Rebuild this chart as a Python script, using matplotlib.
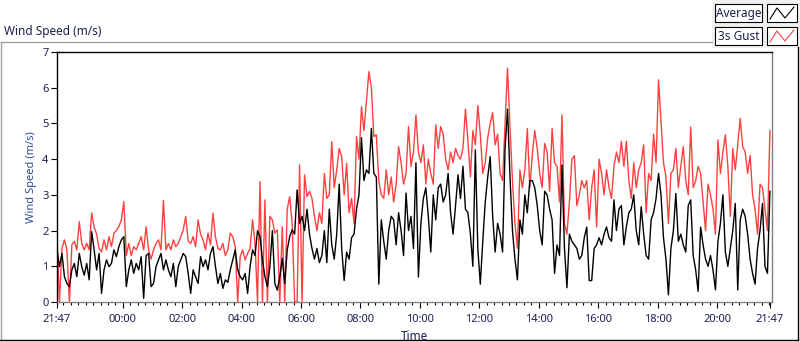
import numpy as np
import matplotlib.pyplot as plt
from matplotlib.lines import Line2D
from matplotlib.patches import Rectangle

plt.rcParams['font.family'] = ['Noto Sans', 'DejaVu Sans']

W, H = 800, 342

# one reading every 5 minutes, starting at 21:47
step_min = 5

gust = [
    1.8, 0.0, 1.5, 1.74, 1.46, 0.0, 1.6, 1.7, 1.46, 2.25, 1.64, 1.46,
    1.64, 1.46, 2.49, 2.1, 1.9, 1.5, 1.4, 1.74, 1.46, 1.83, 1.55, 1.93,
    2.0, 2.11, 2.3, 2.81, 1.3, 1.64, 1.3, 1.55, 1.46, 1.64, 1.83, 1.46,
    2.11, 1.46, 1.2, 1.46, 1.64, 1.74, 1.46, 2.84, 1.46, 1.64, 1.46, 1.74,
    1.55, 1.64, 1.83, 2.02, 2.4, 1.7, 1.64, 1.83, 1.55, 2.3, 1.9, 1.74,
    1.46, 1.93, 1.6, 2.49, 1.83, 1.5, 1.46, 1.64, 1.3, 1.46, 1.93, 1.83,
    1.55, 0.0, 1.27, 1.46, 1.18, 1.36, 1.5, 2.3, 1.64, 0.0, 3.37, 0.0,
    2.86, 0.0, 2.4, 2.3, 1.93, 2.02, 0.0, 2.11, 0.0, 2.6, 2.95, 2.2,
    0.0, 0.0, 3.84, 0.0, 3.56, 2.95, 3.1, 2.9, 2.4, 2.0, 2.5, 2.2,
    3.6, 2.9, 3.0, 4.49, 3.2, 3.7, 4.3, 4.07, 3.0, 3.88, 2.5, 2.9,
    2.2, 4.63, 4.0, 5.47, 4.8, 5.61, 6.45, 6.0, 4.63, 4.68, 3.4, 3.0,
    2.9, 3.7, 3.0, 3.5, 2.8, 3.3, 4.35, 3.9, 3.3, 3.6, 4.91, 3.8,
    4.2, 5.24, 4.2, 3.9, 4.4, 3.3, 4.0, 3.6, 3.3, 4.96, 4.3, 4.91,
    4.7, 4.0, 3.7, 4.2, 3.9, 4.3, 4.1, 4.0, 4.3, 5.4, 4.5, 3.5,
    4.8, 4.4, 5.5, 4.7, 3.6, 3.9, 4.6, 5.0, 5.3, 4.4, 4.7, 3.6,
    3.4, 5.0, 6.55, 4.9, 3.4, 2.2, 1.5, 3.7, 3.2, 3.7, 4.86, 3.2,
    4.1, 4.8, 4.3, 3.6, 3.2, 4.44, 4.2, 3.1, 4.86, 3.9, 3.8, 2.8,
    5.24, 2.2, 1.9, 2.8, 4.0, 4.1, 2.7, 3.0, 3.4, 3.2, 3.4, 2.3,
    3.2, 3.7, 2.1, 4.0, 3.6, 3.0, 3.7, 3.2, 2.9, 3.8, 4.2, 3.9,
    4.5, 3.8, 4.5, 3.4, 2.9, 3.9, 3.2, 3.7, 3.9, 4.4, 2.5, 3.6,
    3.4, 4.7, 3.9, 6.22, 5.05, 3.9, 3.5, 2.2, 3.6, 3.7, 4.3, 3.2,
    3.8, 4.35, 3.4, 3.0, 4.9, 3.2, 3.4, 3.8, 3.6, 2.8, 2.0, 3.3,
    3.0, 2.6, 1.9, 4.54, 3.6, 4.2, 4.68, 3.8, 2.4, 4.3, 3.7, 4.4,
    5.14, 4.35, 4.2, 3.6, 4.1, 3.0, 2.6, 1.9, 3.3, 3.2, 2.6, 2.0,
    4.8,
]

average = [
    1.46, 0.99, 1.36, 0.71, 0.52, 0.43, 0.9, 1.08, 0.71, 1.36, 0.99, 0.75,
    1.08, 0.62, 1.97, 1.46, 0.9, 1.36, 0.24, 0.9, 1.18, 0.99, 1.08, 1.46,
    1.27, 1.55, 1.74, 1.83, 0.43, 0.9, 1.18, 0.8, 1.08, 0.9, 1.27, 0.1,
    1.3, 1.36, 0.43, 0.52, 0.99, 1.18, 1.36, 0.9, 1.18, 0.9, 0.71, 1.08,
    0.43, 1.0, 1.18, 1.36, 1.27, 0.8, 0.24, 0.9, 0.7, 0.52, 1.27, 0.99,
    1.18, 0.9, 1.36, 1.55, 1.0, 0.52, 0.8, 0.38, 0.62, 0.55, 0.9, 1.18,
    1.46, 0.9, 0.71, 0.62, 0.8, 0.24, 0.99, 1.46, 1.3, 2.0, 1.83, 1.18,
    0.71, 0.43, 0.99, 2.0, 0.52, 0.33, 0.71, 1.22, 0.52, 1.46, 1.83, 2.02,
    1.9, 3.14, 2.2, 2.4, 2.0, 2.6, 1.9, 1.5, 1.2, 1.5, 1.1, 1.3,
    2.0, 1.1, 2.6, 1.6, 1.2, 1.9, 3.3, 1.5, 0.6, 1.4, 1.2, 1.8,
    1.9, 2.6, 3.0, 4.6, 3.4, 3.7, 3.6, 4.86, 3.6, 3.5, 0.5, 2.3,
    1.7, 1.2, 2.0, 2.4, 2.3, 1.6, 2.5, 2.0, 1.3, 3.05, 2.0, 2.4,
    1.5, 3.9, 0.7, 2.2, 2.9, 3.2, 2.4, 1.4, 3.0, 2.3, 3.2, 3.3,
    2.8, 3.0, 3.6, 2.5, 1.9, 2.7, 3.56, 2.9, 3.8, 2.6, 2.5, 1.9,
    1.0, 4.26, 1.5, 0.5, 1.7, 2.8, 3.5, 4.07, 2.4, 1.4, 2.2, 1.9,
    1.4, 4.3, 5.4, 3.5, 2.0, 1.2, 0.62, 2.3, 1.9, 3.0, 2.5, 3.4,
    3.4, 3.2, 2.7, 2.0, 1.6, 3.1, 3.0, 2.6, 2.3, 0.8, 1.6, 1.3,
    3.84, 1.5, 0.4, 1.9, 1.7, 1.6, 1.5, 1.2, 1.3, 1.8, 2.1, 0.6,
    0.6, 1.5, 1.6, 1.8, 1.6, 1.9, 2.1, 1.8, 1.7, 2.86, 2.0, 2.6,
    2.7, 1.6, 2.1, 2.5, 2.6, 3.0, 2.0, 1.6, 2.67, 1.9, 1.3, 1.2,
    2.3, 2.5, 2.9, 3.6, 3.0, 1.8, 1.2, 0.2, 1.5, 2.0, 3.04, 1.7,
    1.9, 1.6, 1.4, 2.7, 2.86, 1.3, 0.9, 0.3, 2.1, 1.6, 1.2, 1.0,
    1.3, 0.9, 0.34, 1.7, 2.2, 3.0, 1.4, 1.0, 1.5, 2.0, 2.76, 0.34,
    2.3, 2.6, 2.4, 1.9, 1.2, 0.8, 0.5, 1.5, 2.0, 2.76, 1.0, 0.8,
    3.1,
]

tick_labels = ['21:47', '00:00', '02:00', '04:00', '06:00', '08:00', '10:00',
               '12:00', '14:00', '16:00', '18:00', '20:00', '21:47']

hours = np.arange(len(average)) * step_min / 60
first_full = 13 / 60  # 21:47 -> 22:00
tick_pos = [0] + [first_full + 2 + 2 * k for k in range(11)] + [24]

txt = '#1a2050'

fig = plt.figure(figsize=(W / 100, H / 100), dpi=100)
ax = fig.add_axes([57 / W, 40 / H, 715 / W, 250 / H])

ax.plot(hours, gust, color='#ff4040', lw=1.0)
ax.plot(hours, average, color='black', lw=1.0)

ax.set_xlim(0, 24.07)
ax.set_ylim(0, 7)
ax.set_xticks(tick_pos)
ax.set_xticklabels(tick_labels)
ax.set_xticks(np.arange(first_full, 24, 0.25), minor=True)
ax.set_yticks(range(8))
ax.tick_params(axis='both', which='major', length=4, width=0.8, color='black',
               labelsize=8, labelcolor=txt, pad=2)
ax.tick_params(axis='x', which='major', pad=5)
ax.tick_params(axis='x', which='minor', length=2.5, width=0.8, color='black')

for s in ['top', 'left']:
    ax.spines[s].set_color('black')
    ax.spines[s].set_linewidth(1)
for s in ['bottom', 'right']:
    ax.spines[s].set_color('#808080')
    ax.spines[s].set_linewidth(1)

ax.set_xlabel('Time', fontsize=8.5, color=txt, labelpad=3)
ax.set_ylabel('Wind Speed (m/s)', fontsize=8, color='#2f4f8f', labelpad=4)


def fx(x):
    return x / W


def fy(y):
    return 1 - y / H


# outer frame
fig.add_artist(Line2D([fx(0.5), fx(712)], [fy(42), fy(42)], color='#a0a0a0', lw=1))
fig.add_artist(Line2D([fx(0.5), fx(0.5)], [fy(42), fy(340)], color='#a0a0a0', lw=1))
fig.add_artist(Line2D([fx(0), fx(798)], [fy(340), fy(340)], color='black', lw=1))
fig.add_artist(Line2D([fx(798), fx(798)], [fy(47), fy(340)], color='black', lw=1))

fig.text(fx(4), fy(31), 'Wind Speed (m/s)', fontsize=8.5, color=txt,
         ha='left', va='center')

# legend
fig.add_artist(Rectangle((fx(712), fy(48)), fx(88), 48 / H, facecolor='#f0f0f0',
                         edgecolor='none'))
legend_rows = [('Average', 'black', 4), ('3s Gust', '#ff4040', 27)]
for name, col, top in legend_rows:
    fig.add_artist(Rectangle((fx(715), fy(top + 18)), fx(47), 18 / H,
                             facecolor='white', edgecolor='black', lw=0.8))
    fig.add_artist(Rectangle((fx(767), fy(top + 18)), fx(30), 18 / H,
                             facecolor='white', edgecolor='black', lw=0.8))
    fig.text(fx(738.5), fy(top + 9), name, fontsize=8.5, color=txt,
             ha='center', va='center')
    zx = [770, 777, 785, 794]
    zy = [top + 15, top + 4, top + 14, top + 3]
    fig.add_artist(Line2D([fx(v) for v in zx], [fy(v) for v in zy], color=col, lw=0.8))

fig.savefig('out.png', dpi=100)
